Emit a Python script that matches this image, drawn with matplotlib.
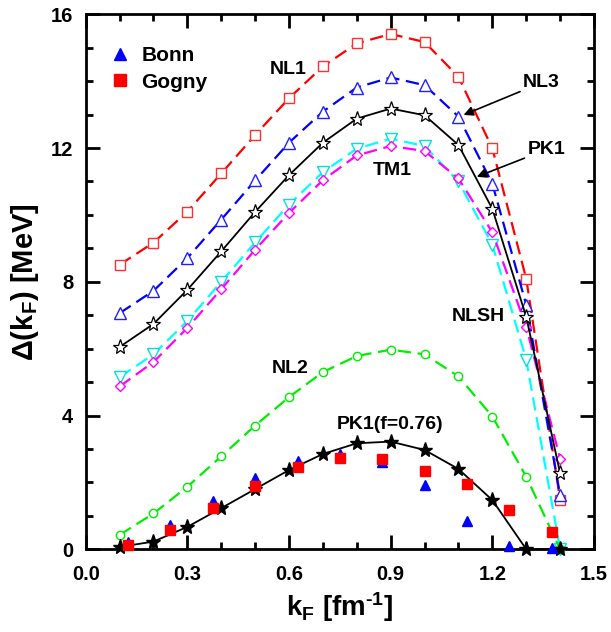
import matplotlib
matplotlib.use("Agg")
import matplotlib.pyplot as plt
from matplotlib.lines import Line2D

plt.rcParams['font.family'] = ['Liberation Sans', 'DejaVu Sans']
plt.rcParams['font.weight'] = 'bold'
plt.rcParams['mathtext.fontset'] = 'custom'
plt.rcParams['mathtext.rm'] = 'Liberation Sans:weight=bold'
plt.rcParams['mathtext.bf'] = 'Liberation Sans:weight=bold'
plt.rcParams['mathtext.it'] = 'Liberation Sans:weight=bold'
plt.rcParams['mathtext.sf'] = 'Liberation Sans:weight=bold'
plt.rcParams['mathtext.default'] = 'bf'

# ---------------- data ----------------
kF = [0.1, 0.2, 0.3, 0.4, 0.5, 0.6, 0.7, 0.8, 0.9, 1.0, 1.1, 1.2, 1.3, 1.4]
NL1 = [8.51, 9.17, 10.10, 11.24, 12.39, 13.49, 14.44, 15.13, 15.41, 15.17, 14.13, 11.99, 8.09, 1.48]
NL3 = [7.06, 7.73, 8.71, 9.86, 11.03, 12.16, 13.09, 13.81, 14.11, 13.88, 12.94, 10.93, 7.31, 1.62]
PK1 = [6.05, 6.74, 7.76, 8.91, 10.09, 11.19, 12.16, 12.88, 13.18, 12.98, 12.09, 10.18, 6.95, 2.27]
TM1 = [4.87, 5.60, 6.62, 7.78, 8.96, 10.06, 11.04, 11.78, 12.06, 11.91, 11.09, 9.48, 6.65, 2.70]
NLSH = [5.15, 5.83, 6.83, 8.00, 9.18, 10.31, 11.28, 11.98, 12.28, 12.06, 11.00, 9.11, 5.67, 0.0]
NL2 = [0.43, 1.07, 1.87, 2.78, 3.70, 4.55, 5.30, 5.78, 5.97, 5.83, 5.17, 3.97, 2.17, 0.0]
PK1_f076 = [0.07, 0.23, 0.67, 1.23, 1.80, 2.37, 2.85, 3.17, 3.22, 2.97, 2.40, 1.47, 0.0, 0.0]

kF_exp = [0.125, 0.25, 0.375, 0.5, 0.625, 0.75, 0.875, 1.0, 1.125, 1.25, 1.375]
Bonn = [0.22, 0.73, 1.45, 2.12, 2.65, 2.86, 2.62, 1.93, 0.85, 0.10, 0.05]
Gogny = [0.12, 0.58, 1.23, 1.90, 2.45, 2.73, 2.70, 2.33, 1.95, 1.17, 0.53]

xticks = [0.0, 0.3, 0.6, 0.9, 1.2, 1.5]
yticks = [0, 4, 8, 12, 16]

# ---------------- figure ----------------
fig = plt.figure(figsize=(6.11, 6.32), dpi=100)
ax = fig.add_axes([0.1403, 0.1309, 0.8319, 0.8465])

dash = (6, 3)
common = dict(lw=1.6, markerfacecolor='white', markeredgewidth=1.0, clip_on=False)
ax.plot(kF, NL1, color='#ff0000', ls=(0, dash), marker='s', ms=6.5,
        markeredgecolor='#ff3030', **common, zorder=3)
ax.plot(kF, NL3, color='#0000ff', ls=(0, dash), marker='^', ms=8.5,
        markeredgecolor='#2020ff', **common, zorder=3)
ax.plot(kF, NLSH, color='#00ffff', ls=(0, dash), marker='v', ms=8.5,
        markeredgecolor='#00e0e0', **common, zorder=3)
ax.plot(kF, TM1, color='#ff00ff', ls=(0, dash), marker='D', ms=5.5,
        markeredgecolor='#ff00ff', **common, zorder=3)
ax.plot(kF, PK1, color='black', ls='-', marker='*', ms=11, lw=1.3,
        markerfacecolor='white', markeredgecolor='black', markeredgewidth=0.9,
        clip_on=False, zorder=4)
ax.plot(kF, NL2, color='#00ee00', ls=(0, dash), marker='o', ms=6,
        markeredgecolor='#00ee00', **common, zorder=3)
ax.plot(kF, PK1_f076, color='black', ls='-', marker='*', ms=11, lw=1.3,
        markerfacecolor='black', markeredgecolor='black', clip_on=False, zorder=4)

ax.plot(kF_exp, Bonn, ls='none', marker='^', ms=7.5, color='#0000ff',
        markeredgecolor='#0000ff', zorder=5, clip_on=False)
ax.plot(kF_exp, Gogny, ls='none', marker='s', ms=7, color='#ff0000',
        markeredgecolor='#ff0000', zorder=6, clip_on=False)

# ---------------- axes ----------------
ax.set_xlim(0.0, 1.5)
ax.set_ylim(0, 16)
ax.set_xticks(xticks)
ax.set_xticklabels([f"{v:.1f}" for v in xticks])
ax.set_yticks(yticks)
ax.set_yticklabels([str(v) for v in yticks])
ax.set_xticks([i / 10 for i in range(16)], minor=True)
ax.set_yticks(list(range(17)), minor=True)
ax.tick_params(which='both', direction='in', top=True, right=True,
               labelsize=14.5, width=2)
ax.tick_params(which='major', length=10)
ax.tick_params(which='minor', length=5)
ax.tick_params(axis='x', which='major', pad=11)
ax.tick_params(axis='y', which='major', pad=9)
for sp in ax.spines.values():
    sp.set_linewidth(2)
for lab in ax.get_xticklabels() + ax.get_yticklabels():
    lab.set_fontweight('bold')

ax.set_xlabel(r'k$_{\mathbf{F}}$ [fm$^{\mathbf{\text{-}1}}$]', fontsize=20,
              fontweight='bold', labelpad=5)
ax.set_ylabel(r'Δ(k$_{\mathbf{F}}$) [MeV]', fontsize=21, fontweight='bold',
              labelpad=7)

# ---------------- legend ----------------
handles = [Line2D([], [], ls='none', marker='^', ms=9, color='#0000ff'),
           Line2D([], [], ls='none', marker='s', ms=8, color='#ff0000')]
leg = ax.legend(handles, ['Bonn', 'Gogny'], loc='upper left',
                bbox_to_anchor=(0.005, 0.975), frameon=False,
                prop={'size': 15, 'weight': 'bold'},
                handlelength=1.2, handletextpad=0.45, labelspacing=0.35)

# ---------------- labels ----------------
tkw = dict(fontsize=14, fontweight='bold', ha='center', va='center')
ax.text(0.597, 14.36, 'NL1', **tkw)
ax.text(0.904, 11.34, 'TM1', **tkw)
ax.text(1.160, 6.96, 'NLSH', **tkw)
ax.text(0.603, 5.41, 'NL2', **tkw)
ax.text(0.899, 3.74, 'PK1(f=0.76)', **tkw)

arw = dict(arrowstyle='-|>', color='black', lw=1.2, mutation_scale=14,
           shrinkA=0, shrinkB=0)
ax.annotate('NL3', xy=(1.115, 12.99), xytext=(1.29, 13.95),
            fontsize=14, fontweight='bold', ha='left', va='center',
            arrowprops=arw)
ax.annotate('PK1', xy=(1.154, 11.14), xytext=(1.303, 11.95),
            fontsize=14, fontweight='bold', ha='left', va='center',
            arrowprops=arw)

fig.savefig('out.png', dpi=100)
